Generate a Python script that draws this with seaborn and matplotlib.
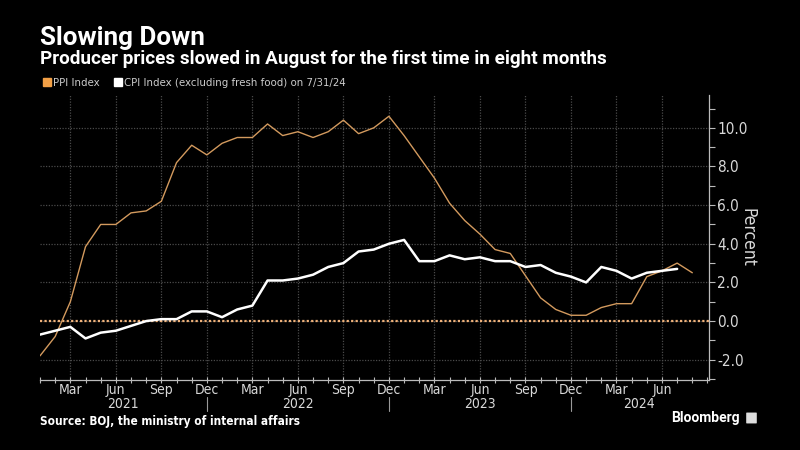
import numpy as np
import pandas as pd
import matplotlib
matplotlib.use("Agg")
import matplotlib.pyplot as plt
import seaborn as sns
from matplotlib.lines import Line2D
from matplotlib.patches import FancyBboxPatch
from matplotlib.transforms import blended_transform_factory
from matplotlib.ticker import FixedLocator, MultipleLocator, FormatStrFormatter

# ---- data (monthly, Jan 2021 onward) ----
ppi = [-1.8, -0.8, 1.0, 3.85, 5.0, 5.0, 5.6, 5.7, 6.2, 8.2, 9.1, 8.6,
       9.2, 9.5, 9.5, 10.2, 9.6, 9.8, 9.5, 9.8, 10.4, 9.7, 10.0, 10.6,
       9.6, 8.5, 7.4, 6.1, 5.2, 4.5, 3.7, 3.5, 2.35, 1.2, 0.6, 0.3,
       0.3, 0.7, 0.9, 0.9, 2.3, 2.6, 3.0, 2.5]
cpi = [-0.7, -0.5, -0.3, -0.9, -0.6, -0.5, -0.25, 0.0, 0.1, 0.1, 0.5, 0.5,
       0.2, 0.6, 0.8, 2.1, 2.1, 2.2, 2.4, 2.8, 3.0, 3.6, 3.7, 4.0,
       4.2, 3.1, 3.1, 3.4, 3.2, 3.3, 3.1, 3.1, 2.8, 2.9, 2.5, 2.3,
       2.0, 2.8, 2.6, 2.2, 2.5, 2.6, 2.7]
quarter_labels = ["Mar", "Jun", "Sep", "Dec"]
years = ["2021", "2022", "2023", "2024"]
series_names = ["PPI Index", "CPI Index (excluding fresh food) on 7/31/24"]

df_ppi = pd.DataFrame({"month": np.arange(len(ppi)), "value": ppi})
df_cpi = pd.DataFrame({"month": np.arange(len(cpi)), "value": cpi})

sns.set_theme(style="dark")
plt.rcParams["font.family"] = ["DejaVu Sans"]
plt.rcParams["font.stretch"] = "condensed"

BG = "#000000"
FG = "#d9d9d9"
PPI_C = "#d39a5e"
LEG_PPI = "#f2a046"

fig = plt.figure(figsize=(8, 4.5), dpi=100, facecolor=BG)
ax = fig.add_axes([40 / 800, 1 - 380 / 450, (709 - 40) / 800, (380 - 95) / 450])
ax.set_facecolor(BG)

sns.lineplot(data=df_ppi, x="month", y="value", ax=ax, color=PPI_C, lw=1.0, zorder=4)
sns.lineplot(data=df_cpi, x="month", y="value", ax=ax, color="white", lw=1.8, zorder=5)

ax.set_xlim(0, 44.1)
ax.set_ylim(-3.05, 11.7)

major_x = list(range(2, 42, 3))
ax.xaxis.set_major_locator(FixedLocator(major_x))
ax.xaxis.set_minor_locator(MultipleLocator(1))
ax.set_xticklabels([quarter_labels[i % 4] for i in range(len(major_x))])
ax.yaxis.set_major_locator(FixedLocator([-2, 0, 2, 4, 6, 8, 10]))
ax.yaxis.set_minor_locator(FixedLocator([-3, -1, 1, 3, 5, 7, 9, 11]))
ax.yaxis.set_major_formatter(FormatStrFormatter("%.1f"))
ax.grid(True, which="major", color="#4a4a4a", ls=(0, (1, 1.2)), lw=0.9)
ax.axhline(0, color="#f0b27a", ls=(0, (1, 1.0)), lw=1.6, zorder=3)

ax.yaxis.tick_right()
ax.yaxis.set_label_position("right")
ax.set_ylabel("Percent", rotation=270, color=FG, fontsize=12.5, labelpad=6)
ax.set_xlabel("")

for s in ["left", "top"]:
    ax.spines[s].set_visible(False)
for s in ["right", "bottom"]:
    ax.spines[s].set_visible(True)
    ax.spines[s].set_color("#bbbbbb")
    ax.spines[s].set_linewidth(0.9)

ax.tick_params(axis="y", which="both", direction="out", colors="#bbbbbb",
               labelcolor=FG, labelsize=11, length=4, width=0.8, pad=2, right=True, left=False)
ax.tick_params(axis="x", which="both", direction="inout", colors="#bbbbbb",
               labelcolor=FG, labelsize=10, length=4, width=0.8, pad=0.5, bottom=True)

# year labels and separators
trans = blended_transform_factory(ax.transData, ax.transAxes)
year_centers = [5.5, 17, 29, 39.5]
for yc, yl in zip(year_centers, years):
    ax.text(yc, (380 - 404) / 285, yl, transform=trans, ha="center", va="center",
            color=FG, fontsize=10)
for sep in [11, 23, 35]:
    ax.add_line(Line2D([sep, sep], [(380 - 397) / 285, (380 - 411) / 285], transform=trans,
                       color="#999999", lw=0.8, clip_on=False))

# titles
fig.text(40 / 800, 1 - 38 / 450, "Slowing Down", color="white", fontsize=18.7,
         fontweight="bold", family=["Roboto", "DejaVu Sans"], fontstretch="normal",
         va="center", ha="left")
fig.text(40 / 800, 1 - 59.5 / 450, "Producer prices slowed in August for the first time in eight months",
         color="white", fontsize=13.6, fontweight="bold", family=["Roboto", "DejaVu Sans"],
         fontstretch="normal", va="center", ha="left")

handles = [Line2D([], [], marker="s", ls="", color=LEG_PPI, markersize=6),
           Line2D([], [], marker="s", ls="", color="white", markersize=6)]
fig.legend(handles, series_names, loc="center left", bbox_to_anchor=(31 / 800, 1 - 83 / 450),
           ncol=2, frameon=False, handletextpad=0.05, columnspacing=1.1, handlelength=1.0,
           fontsize=8.2, labelcolor="#cccccc")

fig.text(40 / 800, 1 - 421 / 450, "Source: BOJ, the ministry of internal affairs", color="white",
         fontsize=8.5, fontweight="bold", va="center", ha="left")
fig.text(740 / 800, 1 - 418 / 450, "Bloomberg", color="white", fontsize=10,
         fontweight="bold", family=["Roboto", "DejaVu Sans"], fontstretch="normal",
         va="center", ha="right")
fig.patches.append(FancyBboxPatch((747 / 800, 1 - 423 / 450), 9 / 800, 10 / 450,
                                  boxstyle="round,pad=0.001", transform=fig.transFigure,
                                  facecolor="#dddddd", edgecolor="none"))

fig.savefig("out.png", dpi=100, facecolor=BG)
